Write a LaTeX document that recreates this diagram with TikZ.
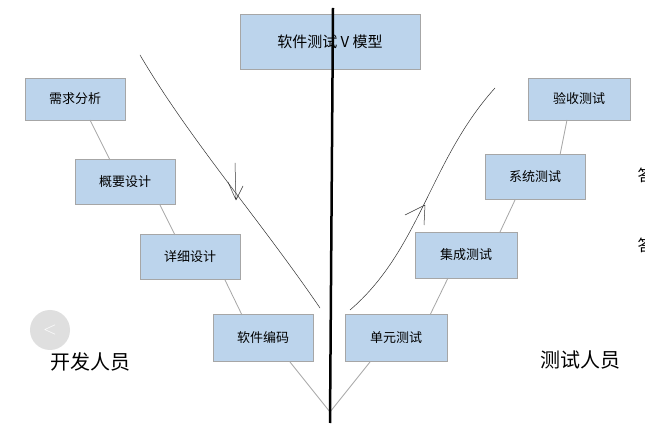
\documentclass[tikz,border=0pt]{standalone}
\usepackage{fontspec}
\newfontfamily\cjk{Noto Sans CJK SC}
\definecolor{boxblue}{HTML}{BCD4EC}
\begin{document}
\begin{tikzpicture}[x=1pt,y=-1pt,
  box/.style={draw=gray!70,fill=boxblue,inner sep=0pt,font=\cjk\fontsize{13}{15}\selectfont},
  vline/.style={draw=gray!70,line width=0.8pt},
  hand/.style={draw=black!80,line width=0.5pt}]
\useasboundingbox (0,0) rectangle (645,427);
\fill[white] (0,0) rectangle (645,427);
\node[box,minimum width=180pt,minimum height=55pt,font=\cjk\fontsize{15}{17}\selectfont] (t) at (330,42) {软件测试 V 模型};
\node[box,minimum width=100pt,minimum height=42pt] (a1) at (75,99) {需求分析};
\node[box,minimum width=100pt,minimum height=45pt] (a2) at (125,182) {概要设计};
\node[box,minimum width=100pt,minimum height=45pt] (a3) at (190,257) {详细设计};
\node[box,minimum width=100pt,minimum height=47pt] (a4) at (263,338) {软件编码};
\node[box,minimum width=102pt,minimum height=47pt] (b4) at (396,338) {单元测试};
\node[box,minimum width=102pt,minimum height=46pt] (b3) at (466,255) {集成测试};
\node[box,minimum width=100pt,minimum height=45pt] (b2) at (535,177) {系统测试};
\node[box,minimum width=102pt,minimum height=42pt] (b1) at (579,99) {验收测试};
\coordinate (v) at (330,412);
\draw[vline] (90,120) -- (110,160) (160,205) -- (175,235) (225,280) -- (242,315) (290,362) -- (v) -- (370,362)
  (430,315) -- (448,278) (500,232) -- (515,200) (560,155) -- (567,120);
\draw[black,line width=2.5pt] (333,8) -- (330,423);
\draw[hand] (140,55) .. controls (190,140) and (260,220) .. (320,308);
\draw[hand] (235,163) -- (236,200) (236,200) -- (228,182) (236,200) -- (243,186);
\draw[hand] (350,310) .. controls (420,250) and (430,160) .. (495,88);
\draw[hand] (405,215) -- (425,205) (425,205) -- (424,225);
\fill[gray!25] (50,330) circle (20pt);
\node[text=white,font=\fontsize{18}{18}\selectfont] (c) at (50,330) {<};
\node[font=\cjk\fontsize{20}{22}\selectfont] (d) at (90,362) {开发人员};
\node[font=\cjk\fontsize{20}{22}\selectfont] (e) at (580,360) {测试人员};
\node[anchor=west,font=\cjk\fontsize{16}{18}\selectfont] (p1) at (634,175) {答};
\node[anchor=west,font=\cjk\fontsize{16}{18}\selectfont] (p2) at (634,245) {答};
\end{tikzpicture}
\end{document}
